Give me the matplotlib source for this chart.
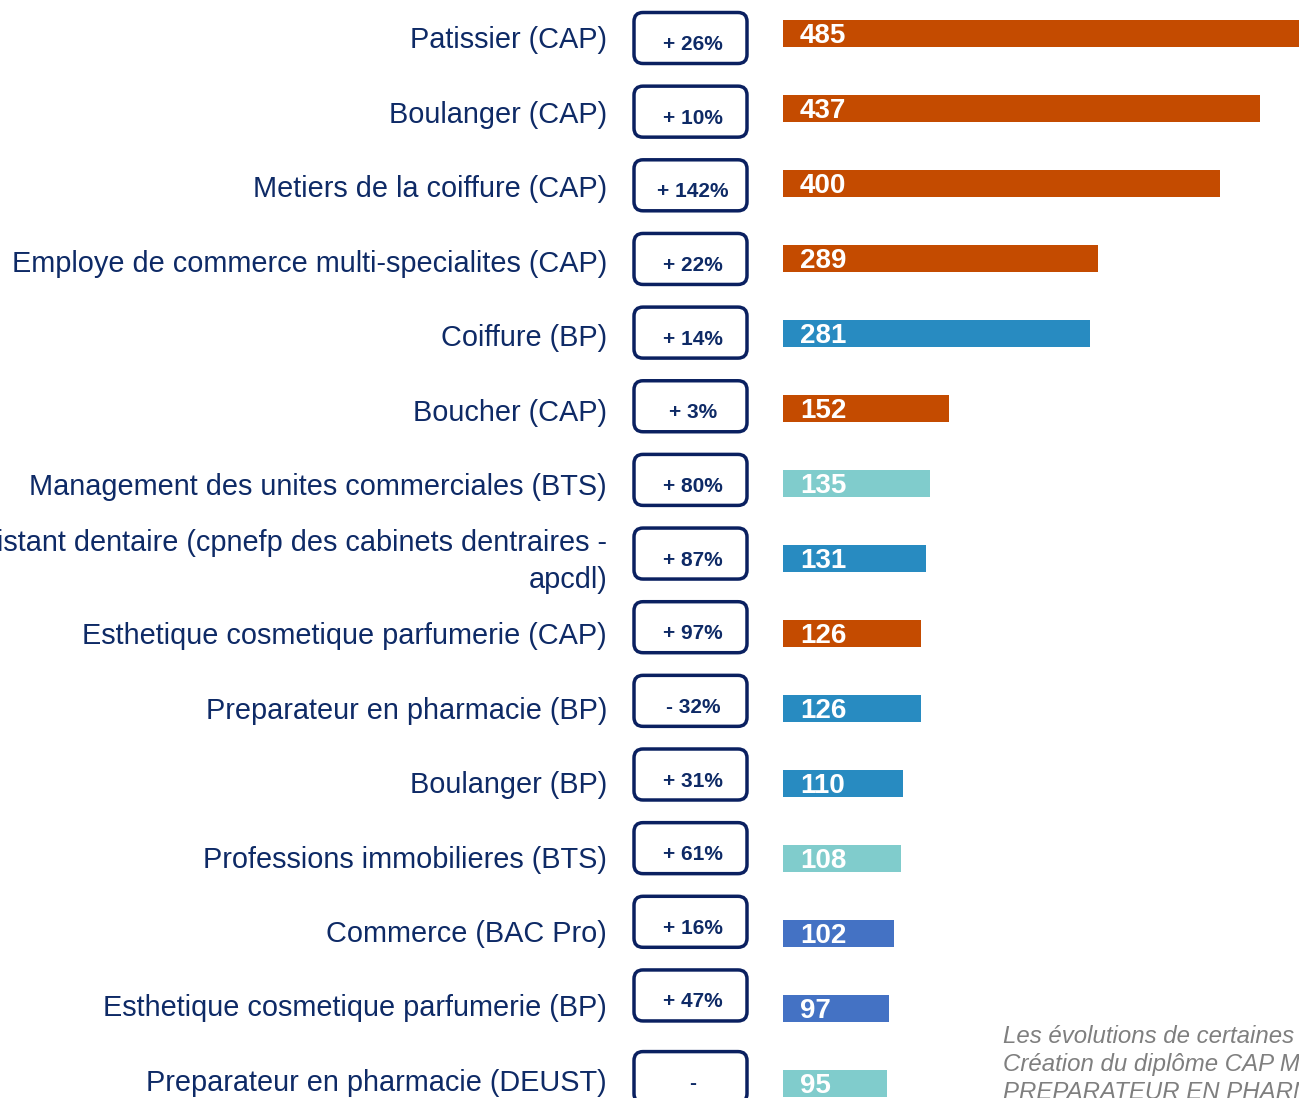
import matplotlib.pyplot as plt
from matplotlib.patches import FancyBboxPatch

# --------------------------------------------
# DATA
# --------------------------------------------
formations = [
    "Patissier (CAP)",
    "Boulanger (CAP)",
    "Metiers de la coiffure (CAP)",
    "Employe de commerce multi-specialites (CAP)",
    "Coiffure (BP)",
    "Boucher (CAP)",
    "Management des unites commerciales (BTS)",
    "Assistant dentaire (cpnefp des cabinets dentraires -\napcdl)",
    "Esthetique cosmetique parfumerie (CAP)",
    "Preparateur en pharmacie (BP)",
    "Boulanger (BP)",
    "Professions immobilieres (BTS)",
    "Commerce (BAC Pro)",
    "Esthetique cosmetique parfumerie (BP)",
    "Preparateur en pharmacie (DEUST)",
]
effectifs = [485, 437, 400, 289, 281, 152, 135, 131, 126, 126, 110, 108, 102, 97, 95]
evolutions = ["+ 26%", "+ 10%", "+ 142%", "+ 22%", "+ 14%", "+ 3%", "+ 80%", "+ 87%",
              "+ 97%", "- 32%", "+ 31%", "+ 61%", "+ 16%", "+ 47%", "-"]
niveaux = ["CAP", "CAP", "CAP", "CAP", "BP", "CAP", "BTS", "BP",
           "CAP", "BP", "BP", "BTS", "BAC", "BAC", "DEUST"]

couleurs = {"CAP": "#C44B00", "BP": "#288BC1", "BTS": "#80CCCC",
            "BAC": "#4472C4", "DEUST": "#80CCCC"}

note = ["Les évolutions de certaines formations",
        "Création du diplôme CAP Métiers de la coiffure",
        "PREPARATEUR EN PHARMACIE (DEUST)"]

# --------------------------------------------
# LAYOUT (pixels)
# --------------------------------------------
W, H = 1299, 1098
bar_x0 = 783          # start of bars
px_per_unit = 1.0915  # bar scale
row_top = 33.3        # centre of first bar
pitch = 75            # bar row spacing
label_y0, label_pitch = 48, 74.5     # label baselines
box_y0, box_pitch = 38, 73.65        # box centres
navy = "#0E2A66"

plt.rcParams['font.family'] = ['Liberation Sans', 'DejaVu Sans']

fig = plt.figure(figsize=(W / 100, H / 100), dpi=100)
ax = fig.add_axes([0, 0, 1, 1])
ax.set_xlim(-bar_x0 / px_per_unit, (W - bar_x0) / px_per_unit)
ax.set_ylim((H - row_top) / pitch, -row_top / pitch)
ax.axis("off")

pos = list(range(len(formations)))
ax.barh(pos, effectifs, height=0.36, left=0,
        color=[couleurs[n] for n in niveaux], edgecolor="none")

dx = lambda px: px / px_per_unit               # pixel offset -> x units
xpx = lambda px: (px - bar_x0) / px_per_unit   # pixel position -> x units
dy = lambda px: px / pitch                     # pixel offset -> y units
ypx = lambda px: (px - row_top) / pitch        # pixel position -> y units

box_y = [box_y0 + box_pitch * i for i in pos]
box_y[-1] += 8  # last box sits a little lower

for i in pos:
    # value inside the bar
    ax.text(dx(17), i + dy(10), str(effectifs[i]), color="white", fontsize=20,
            fontweight="bold", ha="left", va="baseline")
    # formation label
    yl = label_y0 + label_pitch * i
    if "\n" in formations[i]:
        ax.text(xpx(607), ypx(yl - 8), formations[i], color=navy, fontsize=20.8,
                ha="right", va="center", linespacing=1.38)
    else:
        ax.text(xpx(607), ypx(yl), formations[i], color=navy, fontsize=20.8,
                ha="right", va="baseline")
    # evolution box
    yb = box_y[i]
    box = FancyBboxPatch((xpx(634), ypx(yb - 25.5)), dx(113), dy(51),
                         boxstyle="round,pad=0,rounding_size=%f" % dx(9),
                         mutation_aspect=px_per_unit / pitch,
                         facecolor="white", edgecolor="#0A2060", linewidth=2.5)
    ax.add_patch(box)
    ax.text(xpx(693), ypx(yb + 12), evolutions[i], color=navy, fontsize=15,
            fontweight="bold", ha="center", va="baseline")

for k, line in enumerate(note):
    ax.text(xpx(1003), ypx(1043 + 28 * k), line, color="#7F7F7F",
            fontsize=17.3, fontstyle="italic", ha="left", va="baseline")

fig.savefig("out.png", dpi=100)
